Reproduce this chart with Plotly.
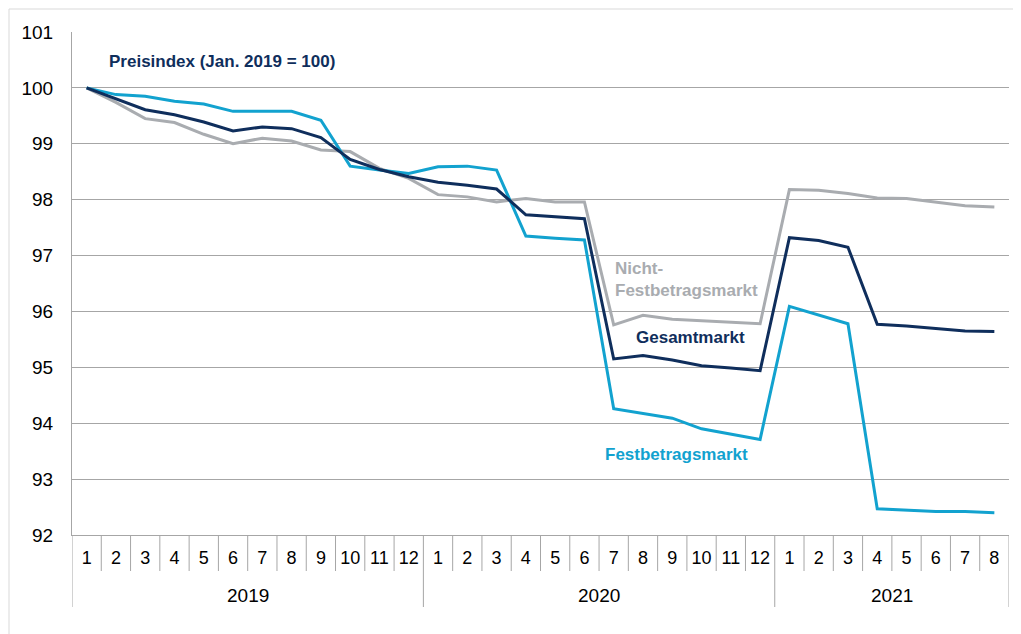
import plotly.graph_objects as go

years = ["2019", "2020", "2021"]
months_per_year = [12, 12, 8]
months = [str(m) for n in months_per_year for m in range(1, n + 1)]

gesamtmarkt = [100.00, 99.80, 99.61, 99.52, 99.39, 99.23, 99.30, 99.27, 99.11, 98.72, 98.54, 98.41,
               98.31, 98.26, 98.19, 97.73, 97.69, 97.66, 95.15, 95.21, 95.13, 95.03, 94.99, 94.94,
               97.32, 97.27, 97.15, 95.77, 95.74, 95.69, 95.65, 95.64]
festbetrag = [100.00, 99.88, 99.85, 99.76, 99.71, 99.58, 99.58, 99.58, 99.42, 98.60, 98.53, 98.47,
              98.59, 98.60, 98.53, 97.35, 97.31, 97.28, 94.26, 94.18, 94.09, 93.90, 93.81, 93.71,
              96.09, 95.94, 95.78, 92.47, 92.45, 92.42, 92.42, 92.40]
nicht_festbetrag = [100.00, 99.74, 99.45, 99.38, 99.17, 99.00, 99.10, 99.05, 98.89, 98.86, 98.56, 98.38,
                    98.09, 98.05, 97.96, 98.02, 97.96, 97.96, 95.76, 95.93, 95.86, 95.83, 95.81, 95.78,
                    98.18, 98.17, 98.11, 98.03, 98.02, 97.95, 97.89, 97.87]

NAVY = "#0f2e5c"
CYAN = "#12a2cf"
GRAY = "#a9acb0"
GRID = "#a6a6a6"
FONT = "Liberation Sans, Arial, sans-serif"

n = len(months)
xi = list(range(n))

fig = go.Figure()
fig.add_trace(go.Scatter(x=xi, y=nicht_festbetrag, mode="lines", line=dict(color=GRAY, width=3),
                         name="Nicht-Festbetragsmarkt"))
fig.add_trace(go.Scatter(x=xi, y=festbetrag, mode="lines", line=dict(color=CYAN, width=3),
                         name="Festbetragsmarkt"))
fig.add_trace(go.Scatter(x=xi, y=gesamtmarkt, mode="lines", line=dict(color=NAVY, width=3),
                         name="Gesamtmarkt"))

# page body has an 8px margin, so the figure is 8px smaller and offsets are reduced by 8
W, H = 1013, 626
ML, MR, MT, MB = 64, 12, 24, 99
PLOT_H = H - MT - MB
PLOT_W = W - ML - MR

fig.update_layout(
    width=W, height=H,
    margin=dict(l=ML, r=MR, t=MT, b=MB),
    paper_bgcolor="white", plot_bgcolor="white",
    showlegend=False,
    font=dict(family=FONT, size=18, color="#000000"),
    xaxis=dict(
        range=[-0.5, n - 0.5], automargin=False,
        tickmode="array", tickvals=xi, ticktext=months,
        showgrid=False, zeroline=False,
        showline=True, linecolor=GRID, linewidth=1,
        ticks="", ticklabelstandoff=6,
        tickfont=dict(family=FONT, size=18, color="#000000"),
    ),
    yaxis=dict(
        range=[92, 101], dtick=1, tick0=92, automargin=False,
        showgrid=True, gridcolor=GRID, gridwidth=1,
        showline=True, linecolor=GRID, linewidth=1,
        zeroline=False, ticks="",
        ticklabelstandoff=14,
        tickfont=dict(family=FONT, size=19, color="#000000"),
    ),
)

# category separators and year groups
short = -36 / PLOT_H
long_ = -72 / PLOT_H
year_edges = [-0.5]
for cnt in months_per_year:
    year_edges.append(year_edges[-1] + cnt)
for b in range(n + 1):
    xb = b - 0.5
    is_year = any(abs(xb - e) < 1e-9 for e in year_edges)
    fig.add_shape(type="line", xref="x", yref="paper", x0=xb, x1=xb, y0=0,
                  y1=long_ if is_year else short, line=dict(color=GRID, width=1))
for yr, a, b in zip(years, year_edges[:-1], year_edges[1:]):
    fig.add_annotation(text=yr, x=(a + b) / 2, y=-60.5 / PLOT_H, xref="x", yref="paper",
                       xanchor="center", yanchor="middle", showarrow=False,
                       font=dict(family=FONT, size=19, color="#000000"))

anns = [
    ("<b>Preisindex (Jan. 2019 = 100)</b>", 0.0374, 0.941, NAVY),
    ("<b>Nicht-</b>", 0.577, 0.5308, GRAY),
    ("<b>Festbetragsmarkt</b>", 0.577, 0.4857, GRAY),
    ("<b>Gesamtmarkt</b>", 0.5998, 0.3922, NAVY),
    ("<b>Festbetragsmarkt</b>", 0.567, 0.161, CYAN),
]
for text, ax_, ay_, col in anns:
    fig.add_annotation(text=text, x=ax_, y=ay_, xref="paper", yref="paper",
                       xanchor="left", yanchor="middle", showarrow=False,
                       font=dict(family=FONT, size=17, color=col))

# outer chart frame
fig.add_shape(type="rect", xref="paper", yref="paper",
              x0=(1 - ML) / PLOT_W, x1=1.05, y0=-0.3, y1=1 + (MT - 1) / PLOT_H,
              line=dict(color="#d9d9d9", width=1), layer="below")

fig.write_html("out.html")
